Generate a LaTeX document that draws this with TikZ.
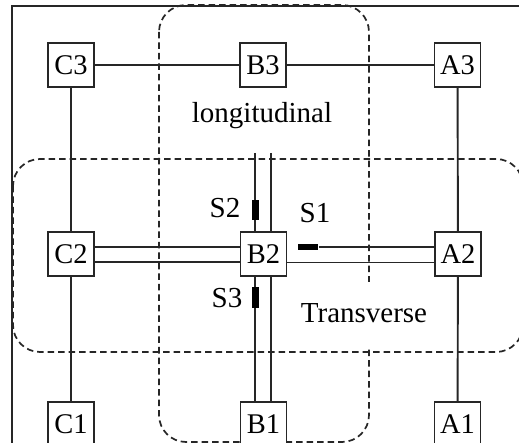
\documentclass[tikz,border=0pt]{standalone}
\usepackage{fontspec}
\setmainfont{Liberation Serif}
\begin{document}
\begin{tikzpicture}[x=1pt,y=-1pt,
  line width=1.9pt, draw=black!85,
  box/.style={draw,fill=white,minimum width=46pt,minimum height=44pt,inner sep=0pt,font=\fontsize{28.5}{30}\selectfont},
  lab/.style={inner sep=0pt,font=\fontsize{29}{31}\selectfont},
  sensor/.style={fill=black,inner sep=0pt},
  region/.style={dash pattern=on 6.5pt off 4pt,rounded corners=27pt,line width=1.7pt}]
\useasboundingbox (0,0) rectangle (519,443);
\clip (0,0) rectangle (519,443);
% frame
\draw (12,6) rectangle (540,470);
% dashed regions
\draw[region] (159,5) rectangle (369,442);
\fill[white] (362,282) rectangle (376,348);
\draw[region] (13,159) rectangle (523,352);
% nodes
\node[box] (C3) at (71,65) {C3};
\node[box] (B3) at (263,65) {B3};
\node[box] (A3) at (457.5,65) {A3};
\node[box] (C2) at (71,254) {C2};
\node[box] (B2) at (263.5,254) {B2};
\node[box] (A2) at (458,254) {A2};
\node[box] (C1) at (71,424) {C1};
\node[box] (B1) at (263.5,424) {B1};
\node[box] (A1) at (457.5,424) {A1};
% single links
\draw (C3) -- (B3);
\draw (B3) -- (A3);
\draw (C3) -- (C2);
\draw (C2) -- (C1);
\draw (A3) -- (A2);
\draw (A2) -- (A1);
% double links C2-B2
\draw ([yshift=7pt]C2.east) -- ([yshift=7pt]B2.west);
\draw ([yshift=-8pt]C2.east) -- ([yshift=-8pt]B2.west);
% B2-A2
\node[sensor,minimum width=20pt,minimum height=6pt] (s1) at (308,247) {};
\draw (s1.east) -- ([yshift=7pt]A2.west);
\draw ([yshift=-8.5pt]B2.east) -- ([yshift=-8.5pt]A2.west);
% B2 upwards
\coordinate (u1) at (255,153);
\coordinate (u2) at (271,153);
\draw (u1) -- (u1 |- B2.north);
\draw (u2) -- (u2 |- B2.north);
\node[sensor,minimum width=7pt,minimum height=20pt] (s2) at (255.5,210) {};
% B2-B1
\draw (u1 |- B2.south) -- (u1 |- B1.north);
\draw (u2 |- B2.south) -- (u2 |- B1.north);
\node[sensor,minimum width=7pt,minimum height=21pt] (s3) at (255.5,297.5) {};
% labels
\node[lab] (l1) at (315,213) {S1};
\node[lab] (l2) at (225,208) {S2};
\node[lab] (l3) at (227,298) {S3};
\node[lab] (lon) at (262,116) {longitudinal};
\node[lab] (tra) at (364,313) {Transverse};
\end{tikzpicture}
\end{document}
